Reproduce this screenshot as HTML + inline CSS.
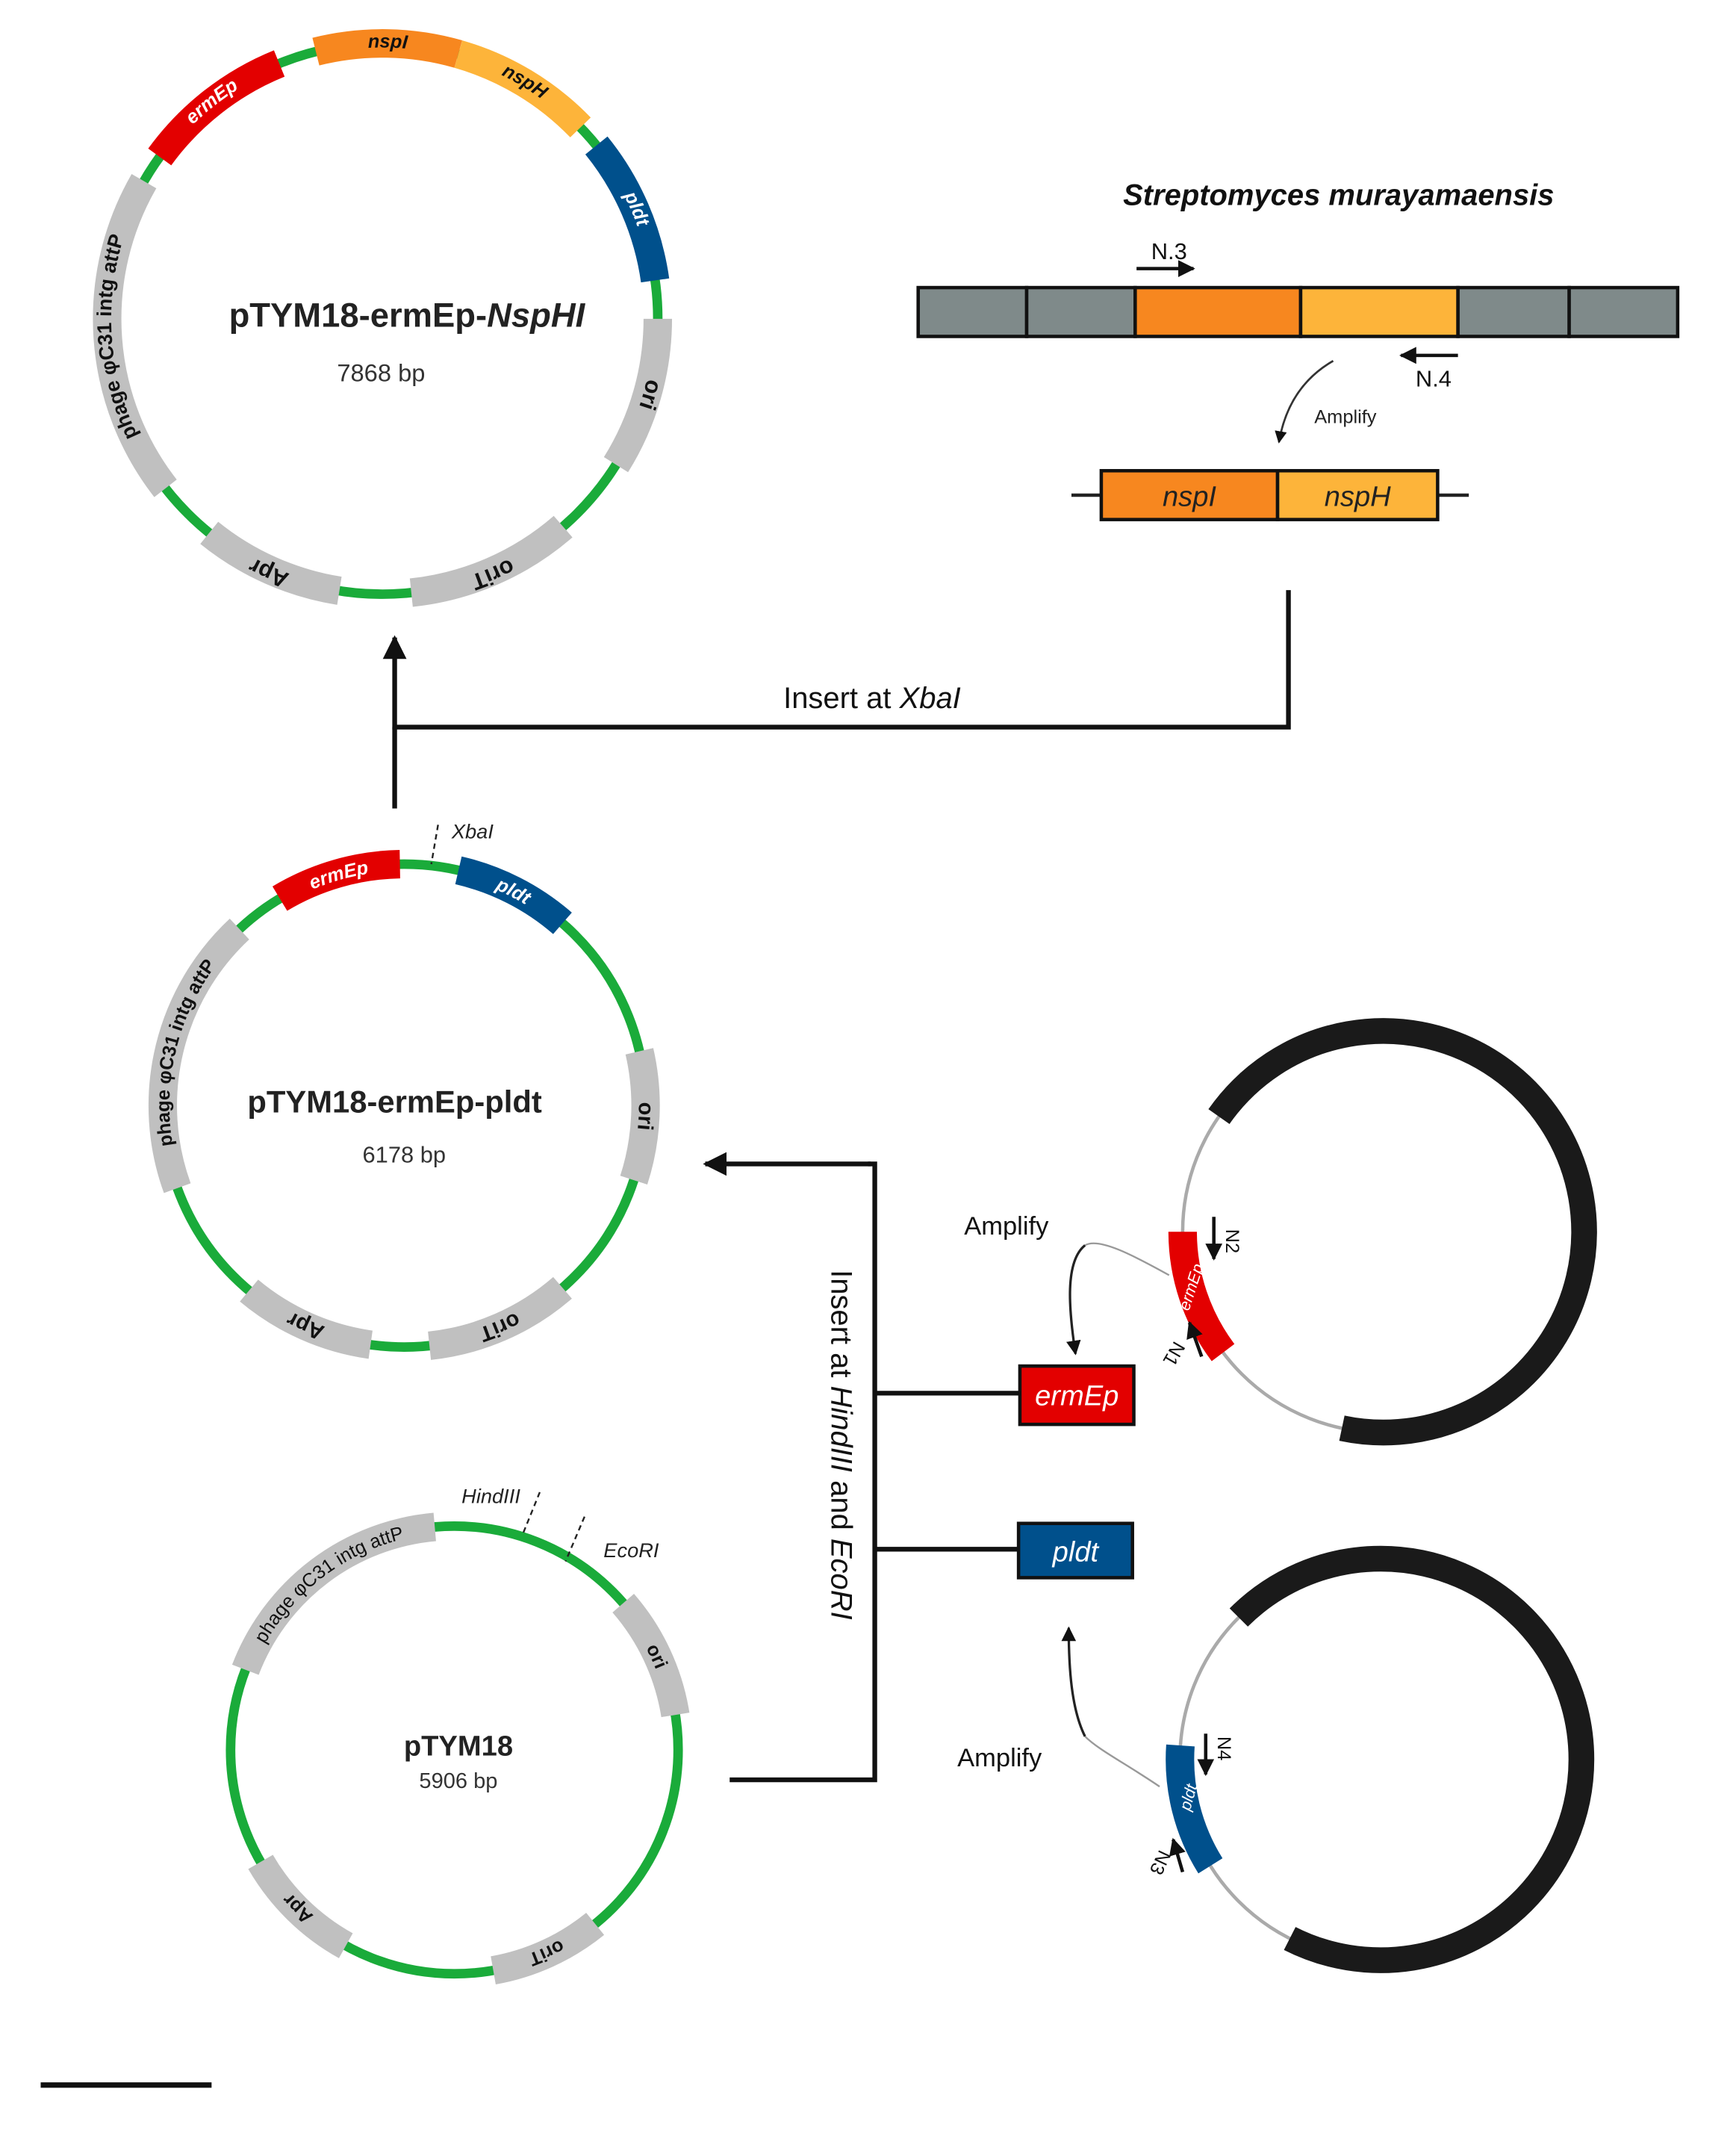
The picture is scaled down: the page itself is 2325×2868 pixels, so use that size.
<!DOCTYPE html>
<html><head><meta charset="utf-8"><style>html,body{margin:0;padding:0;background:#fff}svg{display:block}</style></head>
<body>
<svg width="2325" height="2868" viewBox="0 0 1280 1579" preserveAspectRatio="none" xmlns="http://www.w3.org/2000/svg" font-family="Liberation Sans, DejaVu Sans, sans-serif">
<defs>
<marker id="ah" viewBox="0 0 10 10" refX="9" refY="5" markerWidth="5" markerHeight="5" orient="auto"><path d="M0,0L10,5L0,10z" fill="#111"/></marker>
<marker id="ahs" viewBox="0 0 10 10" refX="9" refY="5" markerWidth="6" markerHeight="6" orient="auto"><path d="M0,0L10,5L0,10z" fill="#111"/></marker>
<path id="t1" d="M282,433 A200,200 0 1 1 282,33 A200,200 0 1 1 282,433"/>
<path id="t2" d="M298,988 A173,173 0 1 1 298,642 A173,173 0 1 1 298,988"/>
<path id="t3" d="M335,1450 A160,160 0 1 1 335,1130 A160,160 0 1 1 335,1450"/>
</defs>
<rect width="1280" height="1579" fill="#fff"/>

<!-- Plasmid 1 -->
<g fill="none">
<circle cx="282" cy="235" r="203" stroke="#1aab3a" stroke-width="7"/>
<g stroke-width="21">
<circle cx="282" cy="235" r="203" pathLength="360" stroke="#e30000" stroke-dasharray="32 1000" transform="rotate(216 282 235)"/>
<circle cx="282" cy="235" r="203" pathLength="360" stroke="#f7871f" stroke-dasharray="30 1000" transform="rotate(256 282 235)"/>
<circle cx="282" cy="235" r="203" pathLength="360" stroke="#fdb43a" stroke-dasharray="30 1000" transform="rotate(-74 282 235)"/>
<circle cx="282" cy="235" r="203" pathLength="360" stroke="#00508c" stroke-dasharray="31 1000" transform="rotate(-39 282 235)"/>
<circle cx="282" cy="235" r="203" pathLength="360" stroke="#c0c0c0" stroke-dasharray="32 1000" transform="rotate(0 282 235)"/>
<circle cx="282" cy="235" r="203" pathLength="360" stroke="#c0c0c0" stroke-dasharray="35 1000" transform="rotate(49 282 235)"/>
<circle cx="282" cy="235" r="203" pathLength="360" stroke="#c0c0c0" stroke-dasharray="30 1000" transform="rotate(99 282 235)"/>
<circle cx="282" cy="235" r="203" pathLength="360" stroke="#c0c0c0" stroke-dasharray="68 1000" transform="rotate(142 282 235)"/>
</g></g>
<g font-size="14" font-weight="bold" text-anchor="middle" transform="translate(0,2) ">
<text fill="#fff" font-style="italic"><textPath href="#t1" startOffset="39.4%">ermEp</textPath></text>
<text fill="#111" font-style="italic"><textPath href="#t1" startOffset="50.3%">nspI</textPath></text>
<text fill="#111" font-style="italic"><textPath href="#t1" startOffset="58.6%">nspH</textPath></text>
<text fill="#fff" font-style="italic"><textPath href="#t1" startOffset="68.5%">pldt</textPath></text>
<text fill="#111" font-size="17"><textPath href="#t1" startOffset="79.4%">ori</textPath></text>
<text fill="#111" font-size="17"><textPath href="#t1" startOffset="93.5%">oriT</textPath></text>
<text fill="#111" font-size="17"><textPath href="#t1" startOffset="6.7%">Apr</textPath></text>
<text fill="#111" font-size="15"><textPath href="#t1" startOffset="23.9%">phage φC31 intg attP</textPath></text>
</g>
<text x="300" y="241" text-anchor="middle" font-size="25" font-weight="bold" fill="#222">pTYM18-ermEp-<tspan font-style="italic">NspHI</tspan></text>
<text x="281" y="281" text-anchor="middle" font-size="18" fill="#333">7868 bp</text>

<!-- Top right -->
<text x="987" y="151" text-anchor="middle" font-size="22" font-weight="bold" font-style="italic" fill="#111">Streptomyces murayamaensis</text>
<g stroke="#111" stroke-width="2.5">
<rect x="677" y="212" width="80" height="36" fill="#7f8a8a"/>
<rect x="757" y="212" width="80" height="36" fill="#7f8a8a"/>
<rect x="837" y="212" width="122" height="36" fill="#f7871f"/>
<rect x="959" y="212" width="116" height="36" fill="#fdb43a"/>
<rect x="1075" y="212" width="82" height="36" fill="#7f8a8a"/>
<rect x="1157" y="212" width="80" height="36" fill="#7f8a8a"/>
</g>
<text x="862" y="191" text-anchor="middle" font-size="17" fill="#111">N.3</text>
<line x1="838" y1="198" x2="880" y2="198" stroke="#111" stroke-width="2.5" marker-end="url(#ah)"/>
<line x1="1075" y1="262" x2="1033" y2="262" stroke="#111" stroke-width="2.5" marker-end="url(#ah)"/>
<text x="1057" y="285" text-anchor="middle" font-size="17" fill="#111">N.4</text>
<path d="M983,266 Q950,285 943,326" fill="none" stroke="#333" stroke-width="1.5" marker-end="url(#ahs)"/>
<text x="992" y="312" text-anchor="middle" font-size="14" fill="#222">Amplify</text>
<line x1="790" y1="365" x2="1083" y2="365" stroke="#222" stroke-width="2.5"/>
<g stroke="#111" stroke-width="2.5">
<rect x="812" y="347" width="130" height="36" fill="#f7871f"/>
<rect x="942" y="347" width="118" height="36" fill="#fdb43a"/>
</g>
<text x="877" y="373" text-anchor="middle" font-size="21" font-style="italic" fill="#222">nspI</text>
<text x="1001" y="373" text-anchor="middle" font-size="21" font-style="italic" fill="#222">nspH</text>

<!-- connector XbaI -->
<polyline points="950,435 950,536 291,536 291,470" fill="none" stroke="#111" stroke-width="3.5" marker-end="url(#ah)"/>
<line x1="291" y1="536" x2="291" y2="596" stroke="#111" stroke-width="3.5"/>
<text x="643" y="522" text-anchor="middle" font-size="22" fill="#111">Insert at <tspan font-style="italic">XbaI</tspan></text>

<!-- Plasmid 2 -->
<g fill="none">
<circle cx="298" cy="815" r="178" stroke="#1aab3a" stroke-width="7"/>
<circle cx="298" cy="815" r="178" pathLength="360" stroke-width="21" stroke="#e30000" stroke-dasharray="30 1000" transform="rotate(239 298 815)"/>
<circle cx="298" cy="815" r="178" pathLength="360" stroke-width="21" stroke="#00508c" stroke-dasharray="28 1000" transform="rotate(-77 298 815)"/>
<circle cx="298" cy="815" r="178" pathLength="360" stroke-width="21" stroke="#c0c0c0" stroke-dasharray="31 1000" transform="rotate(-13 298 815)"/>
<circle cx="298" cy="815" r="178" pathLength="360" stroke-width="21" stroke="#c0c0c0" stroke-dasharray="35 1000" transform="rotate(49 298 815)"/>
<circle cx="298" cy="815" r="178" pathLength="360" stroke-width="21" stroke="#c0c0c0" stroke-dasharray="32 1000" transform="rotate(98 298 815)"/>
<circle cx="298" cy="815" r="178" pathLength="360" stroke-width="21" stroke="#c0c0c0" stroke-dasharray="67 1000" transform="rotate(160 298 815)"/>
</g>
<g font-size="14" font-weight="bold" text-anchor="middle">
<text fill="#fff" font-style="italic"><textPath href="#t2" startOffset="45.6%">ermEp</textPath></text>
<text fill="#fff" font-style="italic"><textPath href="#t2" startOffset="57.5%">pldt</textPath></text>
<text fill="#111" font-size="16"><textPath href="#t2" startOffset="75.7%">ori</textPath></text>
<text fill="#111" font-size="16"><textPath href="#t2" startOffset="93.5%">oriT</textPath></text>
<text fill="#111" font-size="16"><textPath href="#t2" startOffset="6.7%">Apr</textPath></text>
<text fill="#111" font-size="14"><textPath href="#t2" startOffset="28.75%">phage φC31 intg attP</textPath></text>
</g>
<line x1="323" y1="608" x2="318" y2="637" stroke="#222" stroke-width="1.3" stroke-dasharray="4 3"/>
<text x="333" y="618" font-size="15" font-style="italic" fill="#222">XbaI</text>
<text x="291" y="820" text-anchor="middle" font-size="23" font-weight="bold" fill="#222">pTYM18-ermEp-pldt</text>
<text x="298" y="857" text-anchor="middle" font-size="17" fill="#333">6178 bp</text>

<!-- Plasmid 3 -->
<g fill="none">
<circle cx="335" cy="1290" r="165" stroke="#1aab3a" stroke-width="7"/>
<circle cx="335" cy="1290" r="165" pathLength="360" stroke-width="21" stroke="#c0c0c0" stroke-dasharray="64 1000" transform="rotate(201 335 1290)"/>
<circle cx="335" cy="1290" r="165" pathLength="360" stroke-width="21" stroke="#c0c0c0" stroke-dasharray="32 1000" transform="rotate(-41 335 1290)"/>
<circle cx="335" cy="1290" r="165" pathLength="360" stroke-width="21" stroke="#c0c0c0" stroke-dasharray="29 1000" transform="rotate(51 335 1290)"/>
<circle cx="335" cy="1290" r="165" pathLength="360" stroke-width="21" stroke="#c0c0c0" stroke-dasharray="31 1000" transform="rotate(119 335 1290)"/>
</g>
<g font-size="14" text-anchor="middle" fill="#111">
<text><textPath href="#t3" startOffset="39.7%">phage φC31 intg attP</textPath></text>
<text font-weight="bold"><textPath href="#t3" startOffset="68.1%">ori</textPath></text>
<text font-weight="bold"><textPath href="#t3" startOffset="93.2%">oriT</textPath></text>
<text font-weight="bold"><textPath href="#t3" startOffset="12.4%">Apr</textPath></text>
</g>
<line x1="398" y1="1100" x2="385" y2="1132" stroke="#222" stroke-width="1.3" stroke-dasharray="4 3"/>
<text x="362" y="1108" text-anchor="middle" font-size="15" font-style="italic" fill="#222">HindIII</text>
<line x1="431" y1="1118" x2="417" y2="1151" stroke="#222" stroke-width="1.3" stroke-dasharray="4 3"/>
<text x="445" y="1148" font-size="15" font-style="italic" fill="#222">EcoRI</text>
<text x="338" y="1294" text-anchor="middle" font-size="21" font-weight="bold" fill="#222">pTYM18</text>
<text x="338" y="1318" text-anchor="middle" font-size="16" fill="#333">5906 bp</text>

<!-- middle connectors -->
<line x1="642" y1="858" x2="520" y2="858" stroke="#111" stroke-width="3.5" marker-end="url(#ah)"/>
<polyline points="640,858 645,858 645,1312 538,1312" fill="none" stroke="#111" stroke-width="3.5"/>
<line x1="645" y1="1027" x2="752" y2="1027" stroke="#111" stroke-width="3.5"/>
<line x1="645" y1="1142" x2="752" y2="1142" stroke="#111" stroke-width="3.5"/>
<text transform="translate(613,1065) rotate(90)" text-anchor="middle" font-size="22" fill="#111">Insert at <tspan font-style="italic">HindIII</tspan> and <tspan font-style="italic">EcoRI</tspan></text>
<rect x="752" y="1007" width="84" height="43" fill="#e30000" stroke="#111" stroke-width="2.5"/>
<text x="794" y="1036" text-anchor="middle" font-size="21" font-style="italic" fill="#fff">ermEp</text>
<rect x="751" y="1123" width="84" height="40" fill="#00508c" stroke="#111" stroke-width="2.5"/>
<text x="793" y="1151" text-anchor="middle" font-size="21" font-style="italic" fill="#fff">pldt</text>

<!-- right circle 1 -->
<g fill="none">
<circle cx="1020" cy="908" r="148" stroke="#aaa" stroke-width="2.5"/>
<circle cx="1020" cy="908" r="148" pathLength="360" stroke="#1a1a1a" stroke-width="19" stroke-dasharray="247 1000" transform="rotate(215 1020 908)"/>
<circle cx="1020" cy="908" r="148" pathLength="360" stroke="#e30000" stroke-width="21" stroke-dasharray="37 1000" transform="rotate(143 1020 908)"/>
</g>
<text transform="translate(882,950) rotate(-72)" text-anchor="middle" font-size="12" font-style="italic" fill="#fff">ermEp</text>
<line x1="895" y1="897" x2="895" y2="928" stroke="#111" stroke-width="2.5" marker-end="url(#ah)"/>
<text transform="translate(904,906) rotate(90)" font-size="14" fill="#111">N2</text>
<line x1="886" y1="1000" x2="877" y2="975" stroke="#111" stroke-width="2.5" marker-end="url(#ah)"/>
<text transform="translate(866,988) rotate(120)" font-size="14" fill="#111">N1</text>
<text x="742" y="910" text-anchor="middle" font-size="19" fill="#111">Amplify</text>
<path d="M862,940 C835,925 810,912 800,918" fill="none" stroke="#999" stroke-width="1.3"/>
<path d="M800,918 C785,930 788,965 793,998" fill="none" stroke="#222" stroke-width="1.8" marker-end="url(#ahs)"/>

<!-- right circle 2 -->
<g fill="none">
<circle cx="1018" cy="1297" r="148" stroke="#aaa" stroke-width="2.5"/>
<circle cx="1018" cy="1297" r="148" pathLength="360" stroke="#1a1a1a" stroke-width="19" stroke-dasharray="252 1000" transform="rotate(225 1018 1297)"/>
<circle cx="1018" cy="1297" r="148" pathLength="360" stroke="#00508c" stroke-width="21" stroke-dasharray="36 1000" transform="rotate(148 1018 1297)"/>
</g>
<text transform="translate(880,1326) rotate(-74)" text-anchor="middle" font-size="12" font-style="italic" fill="#fff">pldt</text>
<line x1="889" y1="1278" x2="889" y2="1308" stroke="#111" stroke-width="2.5" marker-end="url(#ah)"/>
<text transform="translate(898,1280) rotate(90)" font-size="14" fill="#111">N4</text>
<line x1="872" y1="1380" x2="865" y2="1356" stroke="#111" stroke-width="2.5" marker-end="url(#ah)"/>
<text transform="translate(855,1363) rotate(115)" font-size="14" fill="#111">N3</text>
<text x="737" y="1302" text-anchor="middle" font-size="19" fill="#111">Amplify</text>
<path d="M855,1317 C830,1300 810,1290 800,1280" fill="none" stroke="#999" stroke-width="1.3"/>
<path d="M800,1280 C790,1260 788,1230 788,1200" fill="none" stroke="#222" stroke-width="1.8" marker-end="url(#ahs)"/>

<!-- scale bar -->
<line x1="30" y1="1537" x2="156" y2="1537" stroke="#111" stroke-width="4"/>
</svg>
</body></html>
